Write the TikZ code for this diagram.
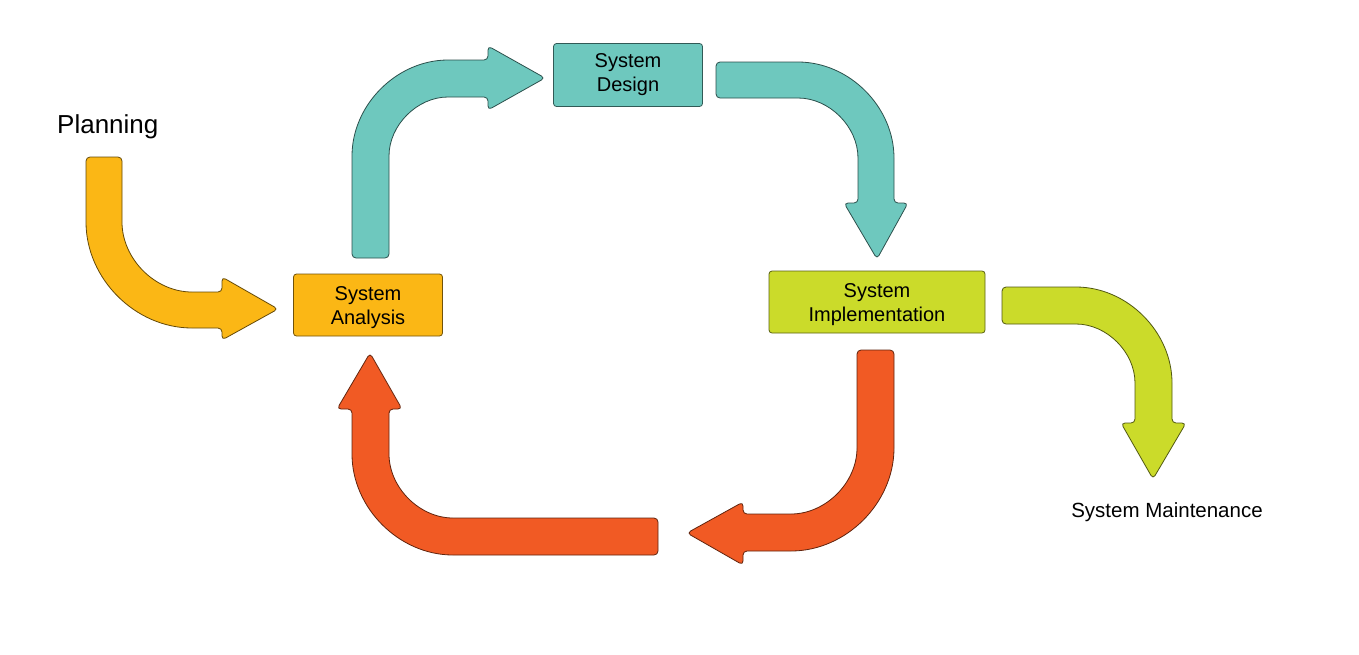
\documentclass[tikz,border=0pt]{standalone}
\usepackage{fontspec}
\setmainfont{Liberation Sans}
\usepackage{tikz}

\definecolor{planyellow}{HTML}{FBB715}
\definecolor{designteal}{HTML}{6EC8BE}
\definecolor{implgreen}{HTML}{CBDB2A}
\definecolor{loopred}{HTML}{F15A24}

\begin{document}
\begin{tikzpicture}[x=1pt,y=-1pt,
    every node/.style={font=\fontsize{20}{24}\selectfont, align=center, inner sep=0pt},
    stagebox/.style={draw=#1!45!black, fill=#1, rounded corners=3pt, line width=0.8pt},
    bentarrow/.style={draw=#1!40!black, fill=#1, rounded corners=4pt, line width=0.8pt}]
      \useasboundingbox (0,0) rectangle (1359,654);
      % stages
      \node[stagebox=planyellow, minimum width=149pt, minimum height=62pt] (analysis) at (368,305) {\rule{0pt}{20pt}System\\Analysis};
      \node[stagebox=designteal, minimum width=149pt, minimum height=63pt] (design) at (628,75) {System\\Design};
      \node[stagebox=implgreen, minimum width=216pt, minimum height=62pt] (impl) at (877,302) {\rule{0pt}{20pt}System\\Implementation};
      \node[font=\fontsize{26}{30}\selectfont, anchor=base west] (planning) at (57,133) {Planning};
      \node[font=\fontsize{20.5}{24}\selectfont, anchor=base] (maint) at (1167,517) {System Maintenance};
      % planning -> analysis
      \draw[bentarrow=planyellow] (86,157) -- (86,218) arc[start angle=180, end angle=270, radius=110pt]
        -- (222,328) -- (222,340) -- (278,309) -- (222,277) -- (222,292) -- (196,292)
        arc[start angle=270, end angle=180, radius=74pt] -- (122,157) -- cycle;
      % analysis -> design
      \draw[bentarrow=designteal] (352,258) -- (352,160) arc[start angle=180, end angle=90, radius=100pt]
        -- (488,60) -- (488,46) -- (545,78) -- (488,110) -- (488,97) -- (452,97)
        arc[start angle=90, end angle=180, radius=63pt] -- (389,258) -- cycle;
      % design -> implementation
      \draw[bentarrow=designteal] (716,62) -- (794,62) arc[start angle=90, end angle=0, radius=100pt]
        -- (894,203) -- (908,203) -- (877,259) -- (844,203) -- (858,203) -- (858,162)
        arc[start angle=0, end angle=90, radius=64pt] -- (716,98) -- cycle;
      % implementation -> maintenance
      \draw[bentarrow=implgreen] (1002,287) -- (1072,287) arc[start angle=90, end angle=0, radius=100pt]
        -- (1172,423) -- (1186,423) -- (1153,479) -- (1121,423) -- (1135,423) -- (1135,387)
        arc[start angle=0, end angle=90, radius=63pt] -- (1002,324) -- cycle;
      % loop back, right half
      \draw[bentarrow=loopred] (857,350) -- (894,350) -- (894,444) arc[start angle=0, end angle=-90, radius=107pt]
        -- (743,551) -- (743,565) -- (687,533) -- (743,502) -- (743,514) -- (787,514)
        arc[start angle=-90, end angle=0, radius=70pt] -- cycle;
      % loop back, left half
      \draw[bentarrow=loopred] (658,518) -- (457,518) arc[start angle=270, end angle=180, radius=68pt]
        -- (389,409) -- (402,409) -- (370,353) -- (337,409) -- (352,409) -- (352,450)
        arc[start angle=180, end angle=270, radius=105pt] -- (658,555) -- cycle;
    \end{tikzpicture}
\end{document}
